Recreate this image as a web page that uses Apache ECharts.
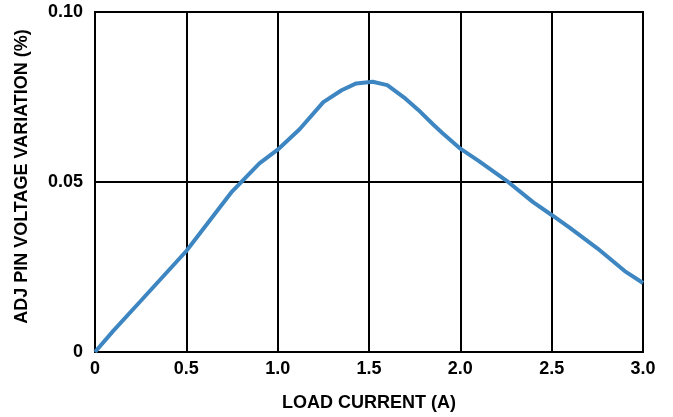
<!DOCTYPE html>
<html><head><meta charset="utf-8">
<script src="https://cdn.jsdelivr.net/npm/echarts@6/dist/echarts.min.js"></script>
<style>html,body{margin:0;padding:0;background:#fff}#c{width:673px;height:417px}</style>
</head><body><div id="c"></div>
<script>
const loadCurrent = [0, 0.1, 0.25, 0.5, 0.75, 0.9, 1.0, 1.12, 1.25, 1.35, 1.43, 1.52, 1.6, 1.7, 1.77, 1.85, 1.9, 2.0, 2.1, 2.25, 2.4, 2.5, 2.6, 2.75, 2.9, 3.0];
const adjVariation = [0, 0.0062, 0.015, 0.0297, 0.0472, 0.0555, 0.0595, 0.0655, 0.0735, 0.077, 0.079, 0.0795, 0.0785, 0.0745, 0.0712, 0.067, 0.0645, 0.0598, 0.0562, 0.0505, 0.044, 0.0403, 0.0365, 0.0305, 0.0238, 0.0203];
const xTickLabels = {0: '0', 0.5: '0.5', 1: '1.0', 1.5: '1.5', 2: '2.0', 2.5: '2.5', 3: '3.0'};
const yTickLabels = {0: '0', 0.05: '0.05', 0.1: '0.10'};

const points = loadCurrent.map((x, i) => [x, adjVariation[i]]);
const font = {fontFamily: 'Liberation Sans', fontWeight: 'bold', fontSize: 18, color: '#000'};
const chart = echarts.init(document.getElementById('c'));
chart.setOption({
  animation: false,
  grid: {left: 95, right: 30, top: 12, bottom: 65, show: true, borderColor: '#000', borderWidth: 2},
  xAxis: {
    type: 'value', min: 0, max: 3, interval: 0.5,
    name: 'LOAD CURRENT (A)', nameLocation: 'middle', nameGap: 42,
    nameTextStyle: Object.assign({}, font),
    axisLine: {lineStyle: {color: '#000', width: 2}},
    axisTick: {show: false},
    axisLabel: Object.assign({margin: 8, formatter: v => xTickLabels[Math.round(v*10)/10] ?? ''}, font),
    splitLine: {show: true, lineStyle: {color: '#000', width: 2}}
  },
  yAxis: {
    type: 'value', min: 0, max: 0.1, interval: 0.05,
    name: 'ADJ PIN VOLTAGE VARIATION (%)', nameLocation: 'middle', nameGap: 64,
    nameTextStyle: Object.assign({padding: [0, 0, 0, 11]}, font),
    axisLine: {lineStyle: {color: '#000', width: 2}},
    axisTick: {show: false},
    axisLabel: Object.assign({margin: 12, formatter: v => yTickLabels[Math.round(v*100)/100] ?? ''}, font),
    splitLine: {show: true, lineStyle: {color: '#000', width: 2}}
  },
  series: [{
    type: 'line', data: points, showSymbol: false, smooth: false,
    lineStyle: {color: '#3d86c1', width: 4}
  }]
});
</script></body></html>
